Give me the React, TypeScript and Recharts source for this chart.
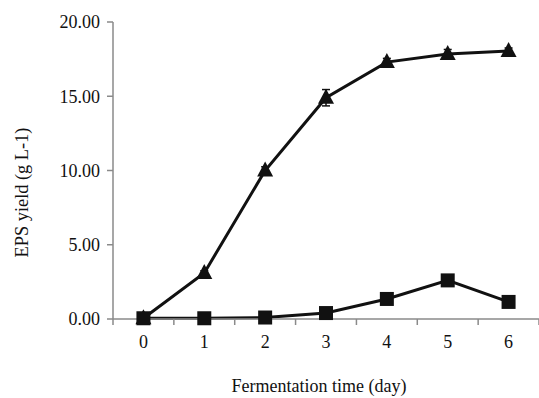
import React from "react";
import { LineChart, Line, XAxis, YAxis, ErrorBar } from "recharts";

// fermentation day
const days = [0, 1, 2, 3, 4, 5, 6];
// upper curve (triangles)
const triangleYield = [0.05, 3.1, 10.0, 14.9, 17.3, 17.85, 18.05];
const triangleErr = [0.05, 0.15, 0.25, 0.55, 0.25, 0.3, 0.2];
// lower curve (squares)
const squareYield = [0.05, 0.05, 0.1, 0.4, 1.35, 2.6, 1.15];
const squareErr = [0.02, 0.05, 0.05, 0.1, 0.1, 0.2, 0.1];
const yTicks = [0, 5, 10, 15, 20];
const bandEdges = [-0.5, 0.5, 1.5, 2.5, 3.5, 4.5, 5.5, 6.5];

const data = days.map((d, i) => ({
  day: d,
  tri: triangleYield[i],
  triErr: triangleErr[i],
  sq: squareYield[i],
  sqErr: squareErr[i],
}));

const FONT = '"Liberation Serif", "Times New Roman", serif';
const INK = "#111";
const AXIS = "#8a8a8a";

const TriangleDot = (props: any) => {
  const { cx, cy, index } = props;
  if (cx == null || cy == null) return <g key={`t${index}`} />;
  return (
    <polygon
      key={`t${index}`}
      points={`${cx},${cy - 9} ${cx - 8},${cy + 6} ${cx + 8},${cy + 6}`}
      fill={INK}
    />
  );
};

const SquareDot = (props: any) => {
  const { cx, cy, index } = props;
  if (cx == null || cy == null) return <g key={`s${index}`} />;
  return <rect key={`s${index}`} x={cx - 7} y={cy - 7} width={14} height={14} fill={INK} />;
};

const XTitle = (props: any) => {
  const { viewBox } = props;
  const x = viewBox.x + viewBox.width / 2 - 7;
  const y = viewBox.y + viewBox.height - 6;
  return (
    <text x={x} y={y} textAnchor="middle" fontFamily={FONT} fontSize={18} fill={INK}>
      Fermentation time (day)
    </text>
  );
};

const YTitle = (props: any) => {
  const { viewBox } = props;
  const cy = viewBox.y + viewBox.height / 2 + 22;
  return (
    <text
      transform={`translate(28, ${cy}) rotate(-90)`}
      textAnchor="middle"
      fontFamily={FONT}
      fontSize={18}
      fill={INK}
      textLength={130}
      lengthAdjust="spacingAndGlyphs"
    >
      EPS yield (g L-1)
    </text>
  );
};

export default function App() {
  return (
    <div style={{ position: "absolute", left: 0, top: 0, background: "#fff" }}>
      <LineChart width={539} height={398} data={data} margin={{ top: 22, right: 0, left: 0, bottom: 0 }}>
        <XAxis
          xAxisId="a_edges"
          dataKey="day"
          type="number"
          domain={[-0.5, 6.5]}
          ticks={bandEdges}
          tickFormatter={() => ""}
          height={8}
          tickSize={6}
          stroke={AXIS}
          strokeWidth={1.5}
        />
        <XAxis
          xAxisId="b_days"
          dataKey="day"
          type="number"
          domain={[-0.5, 6.5]}
          ticks={days}
          height={71}
          axisLine={false}
          tickLine={false}
          tickSize={6}
          tickMargin={2}
          tick={{ fontFamily: FONT, fontSize: 18, fill: INK }}
          label={<XTitle />}
        />
        <YAxis
          domain={[0, 20]}
          ticks={yTicks}
          width={113}
          tickFormatter={(v: number) => v.toFixed(2)}
          tickSize={6}
          tickMargin={7}
          stroke={AXIS}
          strokeWidth={1.5}
          tick={{ fontFamily: FONT, fontSize: 18, fill: INK }}
          label={<YTitle />}
        />
        <Line
          xAxisId="a_edges"
          type="linear"
          dataKey="tri"
          stroke={INK}
          strokeWidth={3}
          dot={TriangleDot}
          activeDot={false}
          isAnimationActive={false}
        >
          <ErrorBar dataKey="triErr" direction="y" width={4} stroke={INK} strokeWidth={1.5} />
        </Line>
        <Line
          xAxisId="a_edges"
          type="linear"
          dataKey="sq"
          stroke={INK}
          strokeWidth={3}
          dot={SquareDot}
          activeDot={false}
          isAnimationActive={false}
        >
          <ErrorBar dataKey="sqErr" direction="y" width={4} stroke={INK} strokeWidth={1.5} />
        </Line>
      </LineChart>
    </div>
  );
}
